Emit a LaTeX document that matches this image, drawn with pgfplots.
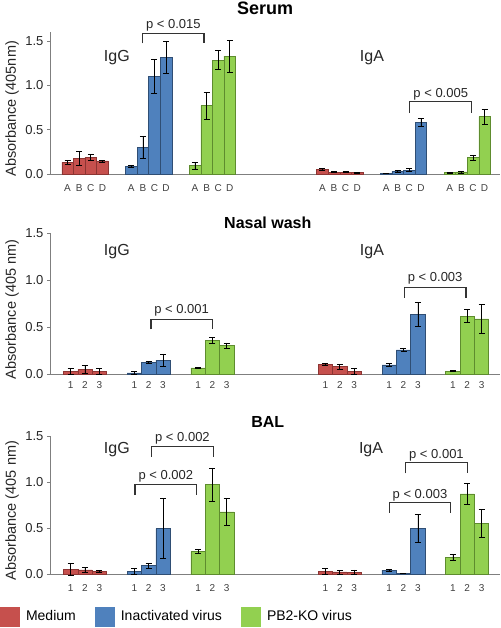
\documentclass[border=0pt]{standalone}
\usepackage{pgfplots}
\pgfplotsset{compat=1.18}
\usepackage{fontspec}
\setmainfont{Liberation Sans}
\definecolor{cmed}{HTML}{C6504D}
\definecolor{cmedD}{HTML}{8C3533}
\definecolor{cina}{HTML}{4F81BD}
\definecolor{cinaD}{HTML}{2F4E74}
\definecolor{cpb}{HTML}{92D050}
\definecolor{cpbD}{HTML}{5E8C2E}
\definecolor{axgray}{HTML}{7F7F7F}
\tikzset{
  brk/.style={draw=black!80, line width=1.2pt},
  pv/.style={anchor=base, font=\fontsize{13}{15}\selectfont, text=black!85},
  ig/.style={anchor=base, font=\fontsize{16}{18}\selectfont, text=black!85},
}
\pgfplotsset{
  panel/.style={
    scale only axis, width=450pt, xmin=-0.549, xmax=6.515, ymin=0,
    axis x line=bottom, axis y line=left,
    axis line style={axgray, -, line width=0.8pt},
    tick align=outside, major tick length=3pt,
    ytick={0,0.5,1,1.5}, yticklabels={0.0,0.5,1.0,1.5},
    y tick style={axgray, line width=0.8pt}, xtick style={draw=none},
    yticklabel style={font=\fontsize{13}{15}\selectfont, text=black!85},
    xticklabel style={font=\fontsize{10}{12}\selectfont, text=black!75},
    ylabel style={at={(axis description cs:-0.084,0.46)}, anchor=center, font=\fontsize{14.5}{16}\selectfont, text=black!85},
    clip=false, ybar, bar shift=0pt,
    error bars/y dir=both, error bars/y explicit,
    error bars/error bar style={black, line width=0.6pt},
    error bars/error mark=-,
    error bars/error mark options={black, line width=0.6pt, mark size=3pt, rotate=90},
  },
  med/.style={fill=cmed, draw=cmedD, line width=0.5pt, forget plot},
  ina/.style={fill=cina, draw=cinaD, line width=0.5pt, forget plot},
  pb/.style={fill=cpb, draw=cpbD, line width=0.5pt, forget plot},
}
\begin{document}
\begin{tikzpicture}
\path[use as bounding box] (0,0) rectangle (500pt,628pt);
% ---------------- Serum ----------------
\begin{axis}[panel, at={(50pt,454pt)}, anchor=south west, height=141.8pt, ymax=1.6,
  bar width=0.182,
  xtick={-0.273,-0.091,0.091,0.273,0.727,0.909,1.091,1.273,1.727,1.909,2.091,2.273,3.727,3.909,4.091,4.273,4.727,4.909,5.091,5.273,5.727,5.909,6.091,6.273},
  xticklabels={A,B,C,D,A,B,C,D,A,B,C,D,A,B,C,D,A,B,C,D,A,B,C,D},
  xticklabel style={yshift=-4pt},
  ylabel={Absorbance (405nm)}]
\addplot[med] coordinates {(-0.273,0.13) +- (0,0.02) (-0.091,0.177) +- (0,0.075) (0.091,0.188) +- (0,0.035) (0.273,0.147) +- (0,0.01)
  (3.727,0.053) +- (0,0.01) (3.909,0.02) +- (0,0.005) (4.091,0.02) +- (0,0.005) (4.273,0.015) +- (0,0.003)};
\addplot[ina] coordinates {(0.727,0.083) +- (0,0.01) (0.909,0.297) +- (0,0.125) (1.091,1.10) +- (0,0.19) (1.273,1.32) +- (0,0.18)
  (4.727,0.008) +- (0,0.002) (4.909,0.03) +- (0,0.01) (5.091,0.045) +- (0,0.015) (5.273,0.58) +- (0,0.045)};
\addplot[pb] coordinates {(1.727,0.094) +- (0,0.04) (1.909,0.77) +- (0,0.155) (2.091,1.286) +- (0,0.11) (2.273,1.33) +- (0,0.18)
  (5.727,0.015) +- (0,0.003) (5.909,0.023) +- (0,0.01) (6.091,0.188) +- (0,0.028) (6.273,0.647) +- (0,0.085)};
\node[font=\bfseries\fontsize{18}{20}\selectfont] at (rel axis cs:0.478,1.167) {Serum};
\node[ig] at (axis cs:0.5,1.266) {IgG};
\node[ig] at (axis cs:4.505,1.266) {IgA};
\draw[brk] (axis cs:0.906,1.473) -- (axis cs:0.906,1.586) -- (axis cs:1.868,1.586) -- (axis cs:1.868,1.473);
\node[pv] at (axis cs:1.387,1.643) {p < 0.015};
\draw[brk] (axis cs:5.10,0.688) -- (axis cs:5.10,0.815) -- (axis cs:6.07,0.815) -- (axis cs:6.07,0.688);
\node[pv] at (axis cs:5.585,0.865) {p < 0.005};
\end{axis}
% ---------------- Nasal wash ----------------
\begin{axis}[panel, at={(50pt,253.7pt)}, anchor=south west, height=141pt, ymax=1.5,
  bar width=0.225,
  xtick={-0.225,0,0.225,0.775,1,1.225,1.775,2,2.225,3.775,4,4.225,4.775,5,5.225,5.775,6,6.225},
  xticklabels={1,2,3,1,2,3,1,2,3,1,2,3,1,2,3,1,2,3},
  xticklabel style={yshift=-1pt},
  ylabel={Absorbance (405 nm)}]
\addplot[med] coordinates {(-0.225,0.035) +- (0,0.03) (0,0.053) +- (0,0.04) (0.225,0.03) +- (0,0.03)
  (3.775,0.103) +- (0,0.01) (4,0.082) +- (0,0.025) (4.225,0.032) +- (0,0.03)};
\addplot[ina] coordinates {(0.775,0.015) +- (0,0.02) (1,0.128) +- (0,0.01) (1.225,0.152) +- (0,0.065)
  (4.775,0.1) +- (0,0.015) (5,0.26) +- (0,0.02) (5.225,0.64) +- (0,0.13)};
\addplot[pb] coordinates {(1.775,0.067) +- (0,0.005) (2,0.36) +- (0,0.035) (2.225,0.305) +- (0,0.03)
  (5.775,0.035) +- (0,0.005) (6,0.62) +- (0,0.07) (6.225,0.59) +- (0,0.15)};
\node[font=\bfseries\fontsize{16}{18}\selectfont] at (rel axis cs:0.484,1.077) {Nasal wash};
\node[ig] at (axis cs:0.5,1.269) {IgG};
\node[ig] at (axis cs:4.505,1.269) {IgA};
\draw[brk] (axis cs:1.036,0.479) -- (axis cs:1.036,0.585) -- (axis cs:1.998,0.585) -- (axis cs:1.998,0.479);
\node[pv] at (axis cs:1.517,0.649) {p < 0.001};
\draw[brk] (axis cs:5.013,0.815) -- (axis cs:5.013,0.926) -- (axis cs:5.98,0.926) -- (axis cs:5.98,0.815);
\node[pv] at (axis cs:5.497,0.985) {p < 0.003};
\end{axis}
% ---------------- BAL ----------------
\begin{axis}[panel, at={(50pt,53.7pt)}, anchor=south west, height=138.3pt, ymax=1.5,
  bar width=0.225,
  xtick={-0.225,0,0.225,0.775,1,1.225,1.775,2,2.225,3.775,4,4.225,4.775,5,5.225,5.775,6,6.225},
  xticklabels={1,2,3,1,2,3,1,2,3,1,2,3,1,2,3,1,2,3},
  xticklabel style={yshift=-4pt},
  ylabel={Absorbance (405 nm)},
  legend columns=3,
  legend style={at={(axis description cs:-0.111,-0.234)}, anchor=north west, draw=none, fill=none,
    inner sep=0pt, outer sep=0pt, font=\fontsize{14}{16}\selectfont,
    /tikz/every odd column/.append style={column sep=4pt},
    /tikz/every even column/.append style={column sep=17pt}},
  legend image code/.code={\path[#1] (0pt,-10pt) rectangle (20pt,10pt);}]
\addlegendimage{fill=cmed, draw=none}
\addlegendentry{Medium}
\addlegendimage{fill=cina, draw=none}
\addlegendentry{Inactivated virus}
\addlegendimage{fill=cpb, draw=none}
\addlegendentry{PB2-KO virus}
\addplot[med] coordinates {(-0.225,0.055) +- (0,0.065) (0,0.047) +- (0,0.025) (0.225,0.033) +- (0,0.008)
  (3.775,0.03) +- (0,0.03) (4,0.025) +- (0,0.02) (4.225,0.022) +- (0,0.025)};
\addplot[ina] coordinates {(0.775,0.03) +- (0,0.035) (1,0.095) +- (0,0.025) (1.225,0.495) +- (0,0.325)
  (4.775,0.044) +- (0,0.012) (5,0.01) +- (0,0) (5.225,0.5) +- (0,0.15)};
\addplot[pb] coordinates {(1.775,0.247) +- (0,0.02) (2,0.975) +- (0,0.18) (2.225,0.676) +- (0,0.148)
  (5.775,0.185) +- (0,0.03) (6,0.873) +- (0,0.115) (6.225,0.55) +- (0,0.15)};
\node[font=\bfseries\fontsize{16}{18}\selectfont] at (rel axis cs:0.484,1.098) {BAL};
\node[ig] at (axis cs:0.5,1.312) {IgG};
\node[ig] at (axis cs:4.49,1.312) {IgA};
\draw[brk] (axis cs:1.047,1.276) -- (axis cs:1.047,1.384) -- (axis cs:2.014,1.384) -- (axis cs:2.014,1.276);
\node[pv] at (axis cs:1.53,1.438) {p < 0.002};
\draw[brk] (axis cs:0.785,0.86) -- (axis cs:0.785,0.976) -- (axis cs:1.753,0.976) -- (axis cs:1.753,0.86);
\node[pv] at (axis cs:1.269,1.03) {p < 0.002};
\draw[brk] (axis cs:5.035,1.095) -- (axis cs:5.035,1.21) -- (axis cs:6.0,1.21) -- (axis cs:6.0,1.095);
\node[pv] at (axis cs:5.517,1.258) {p < 0.001};
\draw[brk] (axis cs:4.777,0.668) -- (axis cs:4.777,0.777) -- (axis cs:5.741,0.777) -- (axis cs:5.741,0.668);
\node[pv] at (axis cs:5.259,0.824) {p < 0.003};
\end{axis}
\end{tikzpicture}
\end{document}
